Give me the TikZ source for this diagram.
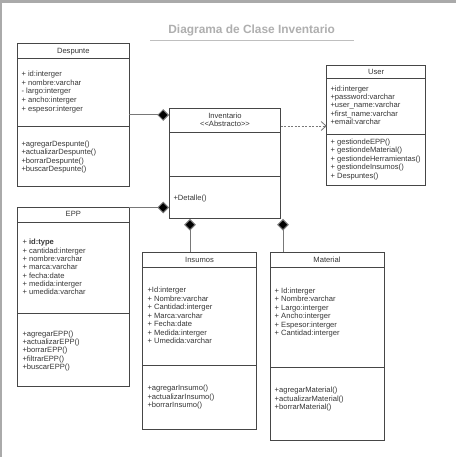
\documentclass[tikz,border=0pt]{standalone}
\usepackage{fontspec}
\setmainfont{Liberation Sans}
\usetikzlibrary{arrows.meta}
\definecolor{boxline}{RGB}{70,70,70}
\definecolor{conn}{RGB}{120,120,120}
\definecolor{txtc}{RGB}{55,55,55}
\definecolor{titlec}{RGB}{175,175,175}
\definecolor{framec}{RGB}{170,170,170}
\tikzset{
  classbox/.style={draw=boxline, line width=0.9pt, fill=white, anchor=north west, inner sep=0pt, outer sep=0pt},
  divider/.style={draw=boxline, line width=0.9pt},
  txt/.style={font=\fontsize{7.6}{8.5}\selectfont, text=txtc, inner sep=0pt, text height=5.3pt, text depth=0pt},
  comp/.style={draw=conn, line width=1pt, {Diamond[length=11.7pt,width=11.7pt,fill=black]}-},
  dep/.style={draw=conn, line width=0.8pt, dash pattern=on 2pt off 1.5pt, -{Straight Barb[length=5pt,width=9pt]}},
}
\begin{document}
\begin{tikzpicture}[x=1pt,y=-1pt]
\useasboundingbox (0,0) rectangle (456,457);
\fill[white] (0,0) rectangle (456,457);
% frame
\fill[framec] (0,0) rectangle (456,3);
\fill[framec] (0,0) rectangle (2,457);
% title
\node[font=\bfseries\fontsize{11.9}{13}\selectfont, text=titlec, inner sep=0pt] (title) at (251.7,30.7) {Diagrama de Clase Inventario};
\coordinate (ulA) at (150,40.3);
\coordinate (ulB) at (354,40.3);
\draw[draw=black!25, line width=0.8pt] (ulA) -- (ulB);

% ---------- Despunte
\node[classbox, minimum width=112, minimum height=143.4] (desp) at (17.3,43.3) {};
\draw[divider] (17.3,58.3) -- (129.3,58.3);
\draw[divider] (17.3,126.7) -- (129.3,126.7);
\node[txt] (despH) at (73.3,50.8) {Despunte};
\foreach \t [count=\i from 0] in {{+ id:interger},{+ nombre:varchar},{- largo:interger},{+ ancho:interger},{+ espesor:interger}}
  \node[txt, anchor=west] (despa\i) at (21.3,{74+8.6*\i}) {\t};
\foreach \t [count=\i from 0] in {{+agregarDespunte()},{+actualizarDespunte()},{+borrarDespunte()},{+buscarDespunte()}}
  \node[txt, anchor=west] (despm\i) at (21.3,{143.7+8.35*\i}) {\t};

% ---------- Inventario
\node[classbox, minimum width=111.7, minimum height=110] (inv) at (169,108.3) {};
\draw[divider] (169,132) -- (280.7,132);
\draw[divider] (169,176) -- (280.7,176);
\node[txt] (invH1) at (225,115.7) {Inventario};
\node[txt] (invH2) at (225,124.3) {<{}<Abstracto>{}>};
\node[txt, anchor=west] (invm0) at (173.3,197.7) {+Detalle()};

% ---------- User
\node[classbox, minimum width=99, minimum height=120.3] (user) at (326.7,65) {};
\draw[divider] (326.7,78.3) -- (425.7,78.3);
\draw[divider] (326.7,134) -- (425.7,134);
\node[txt] (userH) at (376.2,71.5) {User};
\foreach \t [count=\i from 0] in {{+id:interger},{+password:varchar},{+user\_name:varchar},{+first\_name:varchar},{+email:varchar}}
  \node[txt, anchor=west] (usera\i) at (330.3,{88.7+8.25*\i}) {\t};
\foreach \t [count=\i from 0] in {{+ gestiondeEPP()},{+ gestiondeMaterial()},{+ gestiondeHerramientas()},{+ gestiondeInsumos()},{+ Despuntes()}}
  \node[txt, anchor=west] (userm\i) at (330.3,{141.7+8.5*\i}) {\t};

% ---------- EPP
\node[classbox, minimum width=112, minimum height=179.4] (epp) at (17.3,207.3) {};
\draw[divider] (17.3,222.3) -- (129.3,222.3);
\draw[divider] (17.3,313.3) -- (129.3,313.3);
\node[txt] (eppH) at (73.3,213.8) {EPP};
\foreach \t [count=\i from 0] in {{+ \textbf{id:type}},{+ cantidad:interger},{+ nombre:varchar},{+ marca:varchar},{+ fecha:date},{+ medida:interger},{+ umedida:varchar}}
  \node[txt, anchor=west] (eppa\i) at (22.3,{242.3+8.28*\i}) {\t};
\foreach \t [count=\i from 0] in {{+agregarEPP()},{+actualizarEPP()},{+borrarEPP()},{+filtrarEPP()},{+buscarEPP()}}
  \node[txt, anchor=west] (eppm\i) at (22.3,{334+8.17*\i}) {\t};

% ---------- Insumos
\node[classbox, minimum width=114.4, minimum height=177] (ins) at (142.3,252.3) {};
\draw[divider] (142.3,267.7) -- (256.7,267.7);
\draw[divider] (142.3,365) -- (256.7,365);
\node[txt] (insH) at (199.5,259.5) {Insumos};
\foreach \t [count=\i from 0] in {{+Id:interger},{+ Nombre:varchar},{+ Cantidad:interger},{+ Marca:varchar},{+ Fecha:date},{+ Medida:interger},{+ Umedida:varchar}}
  \node[txt, anchor=west] (insa\i) at (147.3,{290+8.5*\i}) {\t};
\foreach \t [count=\i from 0] in {{+agregarInsumo()},{+actualizarInsumo()},{+borrarInsumo()}}
  \node[txt, anchor=west] (insm\i) at (147.3,{388.3+8.35*\i}) {\t};

% ---------- Material
\node[classbox, minimum width=114, minimum height=188.4] (mat) at (270,252.3) {};
\draw[divider] (270,267.7) -- (384,267.7);
\draw[divider] (270,367.3) -- (384,367.3);
\node[txt] (matH) at (327,259.5) {Material};
\foreach \t [count=\i from 0] in {{+ Id:interger},{+ Nombre:varchar},{+ Largo:interger},{+ Ancho:interger},{+ Espesor:interger},{+ Cantidad:interger}}
  \node[txt, anchor=west] (mata\i) at (274.5,{290.7+8.45*\i}) {\t};
\foreach \t [count=\i from 0] in {{+agregarMaterial()},{+actualizarMaterial()},{+borrarMaterial()}}
  \node[txt, anchor=west] (matm\i) at (274.5,{390.3+8.35*\i}) {\t};

% ---------- connectors
\coordinate (cDesp) at (desp.east |- 0,115);
\coordinate (cInvD) at (inv.west |- 0,115);
\draw[comp] (cInvD) -- (cDesp);

\coordinate (cEpp) at (129.3,207.5);
\coordinate (cInvE) at (inv.west |- cEpp);
\draw[comp] (cInvE) -- (cEpp);

\coordinate (cInvI) at (190,218.9);
\coordinate (cIns) at (ins.north -| cInvI);
\draw[comp] (cInvI) -- (cIns);

\coordinate (cInvM) at (283,218.9);
\coordinate (cMat) at (mat.north -| cInvM);
\draw[comp] (cInvM) -- (cMat);

\coordinate (cInvU) at (inv.east |- 0,126);
\coordinate (cUser) at (user.west |- cInvU);
\draw[dep] (cInvU) -- (cUser);
\end{tikzpicture}
\end{document}
